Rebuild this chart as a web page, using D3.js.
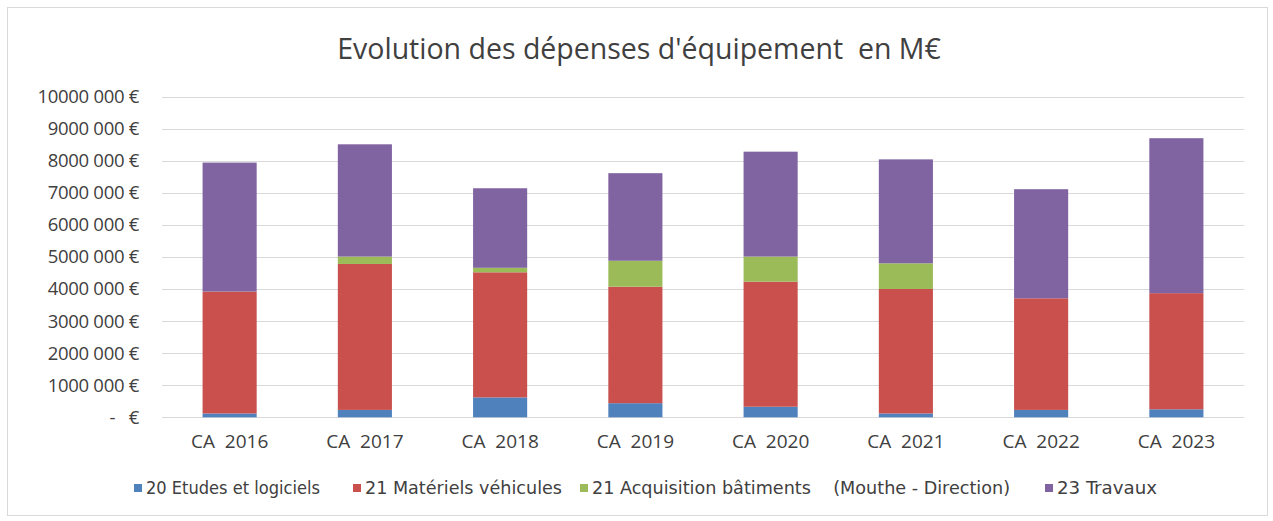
<!DOCTYPE html>
<html>
<head>
<meta charset="utf-8">
<script src="https://cdn.jsdelivr.net/npm/d3@7"></script>
<style>
  body { margin: 0; background: #fff; }
  svg { display: block; font-family: "Open Sans", Lato, sans-serif; }
</style>
</head>
<body>
<svg id="chart" width="1273" height="521"></svg>
<script>
// values, in euros
const years = ["CA  2016", "CA  2017", "CA  2018", "CA  2019", "CA  2020", "CA  2021", "CA  2022", "CA  2023"];
const etudes = [120000, 230000, 620000, 440000, 330000, 120000, 230000, 250000];
const materiels = [3800000, 4550000, 3900000, 3630000, 3900000, 3880000, 3480000, 3620000];
const acquisition = [0, 230000, 140000, 810000, 780000, 800000, 0, 0];
const travaux = [4020000, 3500000, 2480000, 2730000, 3270000, 3240000, 3400000, 4830000];
const seriesNames = ["20 Etudes et logiciels", "21 Matériels véhicules", "21 Acquisition bâtiments    (Mouthe - Direction)", "23 Travaux"];
const yTicks = [0, 1e6, 2e6, 3e6, 4e6, 5e6, 6e6, 7e6, 8e6, 9e6, 1e7];

const colors = ["#4F81BD", "#C9504D", "#9BBB59", "#8064A2"];
const keys = ["etudes", "materiels", "acquisition", "travaux"];

const rows = years.map((y, i) => ({
  year: y,
  etudes: etudes[i],
  materiels: materiels[i],
  acquisition: acquisition[i],
  travaux: travaux[i]
}));

const svg = d3.select("#chart");

// outer frame
svg.append("rect")
  .attr("x", 7.5).attr("y", 7.5)
  .attr("width", 1260).attr("height", 508)
  .attr("fill", "#fff")
  .attr("stroke", "#d9d9d9");

const margin = { left: 162, right: 1244, top: 96.5, bottom: 417.3 };

const x = d3.scaleBand()
  .domain(years)
  .range([margin.left, margin.right])
  .paddingInner(0.6)
  .paddingOuter(0.3);

const y = d3.scaleLinear()
  .domain([0, 1e7])
  .range([margin.bottom, margin.top]);

// grid lines
svg.append("g")
  .selectAll("line")
  .data(yTicks)
  .join("line")
  .attr("x1", margin.left)
  .attr("x2", margin.right)
  .attr("y1", (d) => Math.round(y(d)) + 0.5)
  .attr("y2", (d) => Math.round(y(d)) + 0.5)
  .attr("stroke", "#d9d9d9")
  .attr("stroke-width", 1);

// y labels, excel style "8000 000 €"
const fmt = (v) => v === 0 ? "-   €" : Math.floor(v / 1000) + " 000 €";
svg.append("g")
  .selectAll("text")
  .data(yTicks)
  .join("text")
  .attr("x", 139)
  .attr("y", (d) => y(d))
  .attr("dy", "0.35em")
  .attr("text-anchor", "end")
  .attr("font-size", 18.5)
  .attr("letter-spacing", -0.3)
  .attr("fill", "#404040")
  .style("white-space", "pre")
  .text(fmt);

// stacked bars
const stack = d3.stack().keys(keys)(rows);

svg.append("g")
  .selectAll("g")
  .data(stack)
  .join("g")
  .attr("fill", (d, i) => colors[i])
  .selectAll("rect")
  .data((d) => d)
  .join("rect")
  .attr("x", (d) => x(d.data.year))
  .attr("width", x.bandwidth())
  .attr("y", (d) => y(d[1]))
  .attr("height", (d) => y(d[0]) - y(d[1]));

// x labels
svg.append("g")
  .selectAll("text")
  .data(years)
  .join("text")
  .attr("x", (d) => x(d) + x.bandwidth() / 2)
  .attr("y", 448)
  .attr("text-anchor", "middle")
  .attr("font-size", 19)
  .attr("fill", "#404040")
  .style("white-space", "pre")
  .text((d) => d);

// title
svg.append("text")
  .attr("x", 639)
  .attr("y", 59)
  .attr("text-anchor", "middle")
  .attr("font-size", 28.5)
  .attr("fill", "#404040")
  .style("white-space", "pre")
  .text("Evolution des dépenses d'équipement  en M€");

// legend
const legendX = [134, 353, 580, 1045];
const legendW = [174, 197, 418, 100];
const legend = svg.append("g")
  .selectAll("g")
  .data(seriesNames)
  .join("g")
  .attr("transform", (d, i) => `translate(${legendX[i]},488)`);

legend.append("rect")
  .attr("x", 0).attr("y", -4)
  .attr("width", 8).attr("height", 8)
  .attr("fill", (d, i) => colors[i]);

legend.append("text")
  .attr("x", 12)
  .attr("y", 0)
  .attr("dy", "0.35em")
  .attr("font-size", 17)
  .attr("font-family", '"Liberation Sans Narrow", "DejaVu Sans Condensed", sans-serif')
  .attr("fill", "#404040")
  .attr("textLength", (d, i) => legendW[i])
  .attr("lengthAdjust", "spacingAndGlyphs")
  .style("white-space", "pre")
  .text((d) => d);
</script>
</body>
</html>
